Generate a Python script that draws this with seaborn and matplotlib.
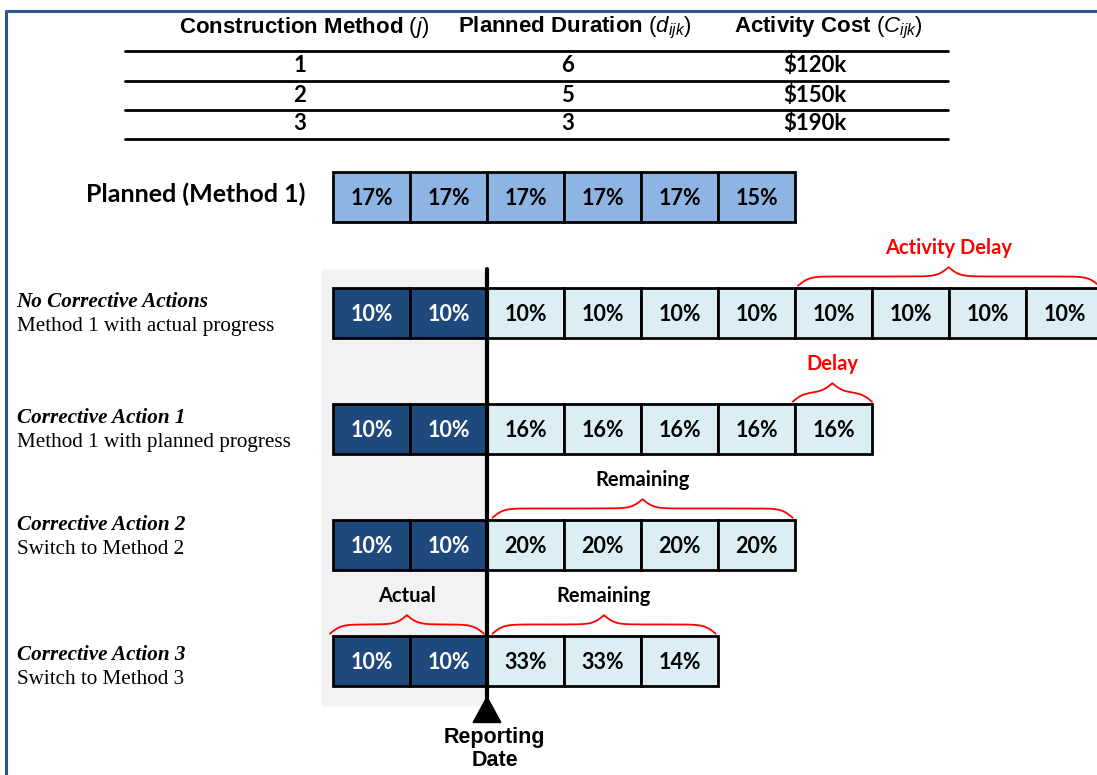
"""
Corrective action scenarios - progress per period before and after the reporting date
"""
import numpy as np
import matplotlib
matplotlib.use('Agg')
import matplotlib.pyplot as plt
from matplotlib.lines import Line2D
from matplotlib.patches import Polygon, Rectangle
import seaborn as sns

# table of construction methods
methods = ['1', '2', '3']
durations = ['6', '5', '3']
costs = ['$120k', '$150k', '$190k']
table_headers = ['Construction Method $(j)$',
                 'Planned Duration $(d_{ijk})$',
                 'Activity Cost $(C_{ijk})$']

# progress per period (%)
planned_progress = [17, 17, 17, 17, 17, 15]
actual_progress = [10, 10]
no_action_remaining = [10, 10, 10, 10, 10, 10, 10, 10]
ca1_remaining = [16, 16, 16, 16, 16]
ca2_remaining = [20, 20, 20, 20]
ca3_remaining = [33, 33, 14]

row_titles = ['No Corrective Actions', 'Corrective Action 1',
              'Corrective Action 2', 'Corrective Action 3']
row_subtitles = ['Method 1 with actual progress', 'Method 1 with planned progress',
                 'Switch to Method 2', 'Switch to Method 3']

PLANNED_C = '#8DB4E2'
ACTUAL_C = '#1F497D'
REMAIN_C = '#DAEEF3'
RED = '#FF0000'
CALIBRI = ['Lato', 'DejaVu Sans']
ARIAL = ['Liberation Sans', 'DejaVu Sans']
TIMES = ['Liberation Serif', 'DejaVu Serif']

sns.set_theme(style='white')
plt.rcParams['font.family'] = CALIBRI
plt.rcParams['text.color'] = 'black'
plt.rcParams['mathtext.fontset'] = 'custom'
plt.rcParams['mathtext.rm'] = 'Liberation Sans'
plt.rcParams['mathtext.it'] = 'Liberation Sans:italic'

W, H = 1097, 775
fig = plt.figure(figsize=(W / 100, H / 100), dpi=100)
ax = fig.add_axes([0, 0, 1, 1])
# x in periods, y in rows (one period = 77 px, one row = 116 px)
X0, PW, Y0, RH = 333, 77, 197, 116
ax.set_xlim(-X0 / PW, (W - X0) / PW)
ax.set_ylim((H - Y0) / RH, -Y0 / RH)
ax.axis('off')


def fx(x):
    return x / W


def fy(y):
    return 1 - y / H


def cells(row, values, start, color, txt_color):
    for i, v in enumerate(values):
        ax.barh(row, 1, left=start + i, height=0.425, color=color,
                edgecolor='black', linewidth=2, zorder=3)
        ax.text(start + i + 0.5, row + 0.01, f'{v}%', ha='center', va='center',
                fontsize=15.5, fontweight='bold', color=txt_color, zorder=4)


def brace(x0, x1, row, label, color):
    n = 301
    xs = np.linspace(x0, x1, n)
    half = xs[:n // 2 + 1]
    beta = 14.0
    yh = (1 / (1 + np.exp(-beta * (half - half[0])))
          + 1 / (1 + np.exp(-beta * (half - half[-1]))))
    yy = np.concatenate((yh, yh[-2::-1]))
    base = row - 0.235
    ax.plot(xs, base - (yy - 0.5) * 0.16, color=RED, lw=1.3, zorder=4)
    ax.text((x0 + x1) / 2, row - 0.56, label, ha='center', va='center',
            fontsize=14.5, fontweight='bold', color=color)


# frame
fig.add_artist(Line2D([fx(6), fx(6)], [fy(11), 0], color='#2E5694', lw=2.2))
fig.add_artist(Line2D([fx(6), 1], [fy(11), fy(11)], color='#2E5694', lw=2.2))

# table
for x, h in zip([304, 575, 828], table_headers):
    fig.text(fx(x), fy(28), h, ha='center', va='center', fontsize=16,
             fontweight='bold', family=ARIAL)
for y in [51, 81, 110, 139]:
    fig.add_artist(Line2D([fx(125), fx(948)], [fy(y), fy(y)], color='black', lw=2))
for y, m, d, c in zip([66, 96, 124], methods, durations, costs):
    fig.text(fx(300), fy(y), m, ha='center', va='center', fontsize=16, fontweight='bold')
    fig.text(fx(568), fy(y), d, ha='center', va='center', fontsize=16, fontweight='bold')
    fig.text(fx(815), fy(y), c, ha='center', va='center', fontsize=16, fontweight='bold')

# shaded "actual" zone and reporting date
n_act = len(actual_progress)
ax.add_patch(Rectangle((-0.143, 0.63), n_act + 0.143, 3.75, color='#F2F2F2', zorder=1))
ax.plot([n_act, n_act], [0.62, 4.33], color='black', lw=3, zorder=5)
ax.add_patch(Polygon([[n_act, 4.31], [n_act - 0.18, 4.53], [n_act + 0.18, 4.53]],
                     closed=True, color='black', zorder=5))
ax.text(n_act + 0.1, 4.76, 'Reporting\nDate', ha='center', va='center', fontsize=15.5,
        fontweight='bold', family=ARIAL, linespacing=1.15)

# planned row
ax.text(-0.36, -0.02, 'Planned (Method 1)', ha='right', va='center', fontsize=18,
        fontweight='bold')
cells(0, planned_progress, 0, PLANNED_C, 'black')

# scenario rows (label block top line in px)
label_y = [302, 418, 525, 655]
remaining = [no_action_remaining, ca1_remaining, ca2_remaining, ca3_remaining]
for r, (title, sub, rem) in enumerate(zip(row_titles, row_subtitles, remaining), start=1):
    cells(r, actual_progress, 0, ACTUAL_C, 'white')
    cells(r, rem, n_act, REMAIN_C, 'black')
    ty = (label_y[r - 1] - Y0) / RH
    ax.text(-4.11, ty, title, ha='left', va='center', fontsize=15.2,
            fontweight='bold', style='italic', family=TIMES)
    ax.text(-4.11, ty + 0.21, sub, ha='left', va='center', fontsize=15.2, family=TIMES)

n_plan = len(planned_progress)
brace(n_plan + 0.04, n_act + len(no_action_remaining) - 0.05, 1, 'Activity Delay', RED)
brace(n_plan - 0.03, n_act + len(ca1_remaining), 2, 'Delay', RED)
brace(n_act + 0.07, n_act + len(ca2_remaining) - 0.03, 3, 'Remaining', 'black')
brace(-0.04, n_act - 0.04, 4, 'Actual', 'black')
brace(n_act + 0.07, n_act + len(ca3_remaining) - 0.03, 4, 'Remaining', 'black')

fig.savefig('out.png', dpi=100)
